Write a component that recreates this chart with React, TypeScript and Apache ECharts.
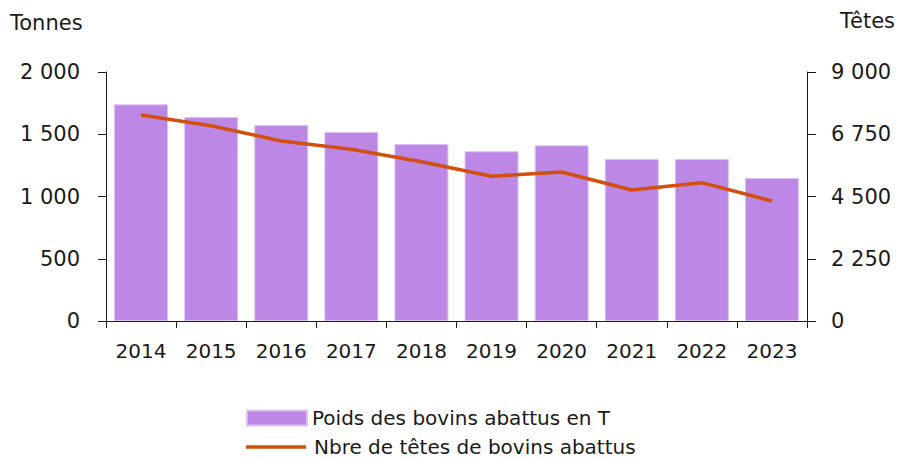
import React, { useEffect, useRef } from "react";
import * as echarts from "echarts";

const years = ["2014", "2015", "2016", "2017", "2018", "2019", "2020", "2021", "2022", "2023"];
const poidsTonnes = [1740, 1638, 1574, 1518, 1422, 1363, 1411, 1301, 1301, 1149];
const nbreTetes = [7446, 7060, 6506, 6205, 5759, 5229, 5386, 4735, 5000, 4337];

const barName = "Poids des bovins abattus en T";
const lineName = "Nbre de têtes de bovins abattus";

const FONT = "DejaVu Sans";
const TXT = "#1a1a1a";
const BAR = "#BC87E5";
const LINE = "#D2500F";

const fmt = (v: number) => {
  const s = String(Math.round(v));
  return s.replace(/\B(?=(\d{3})+(?!\d))/g, " ");
};

export default function App() {
  const ref = useRef<HTMLDivElement>(null);
  useEffect(() => {
    if (!ref.current) return;
    const chart = echarts.init(ref.current, undefined, { renderer: "svg" });
    chart.setOption({
      animation: false,
      backgroundColor: "#ffffff",
      textStyle: { fontFamily: FONT, color: TXT },
      grid: { left: 106, right: 94, top: 72, bottom: 138 },
      legend: [
        {
          left: 246,
          top: 408,
          padding: 0,
          itemWidth: 60,
          itemHeight: 15,
          textStyle: { fontFamily: FONT, fontSize: 20, lineHeight: 20, color: TXT },
          data: [{ name: barName, icon: "rect" }],
        },
        {
          left: 246,
          top: 437,
          padding: 0,
          itemWidth: 60,
          itemHeight: 3.5,
          textStyle: { fontFamily: FONT, fontSize: 20, lineHeight: 20, color: TXT, padding: [0, 0, 0, 3] },
          data: [{ name: lineName, icon: "rect", itemStyle: { color: LINE } }],
        },
      ],
      graphic: [
        {
          type: "text",
          left: 10,
          top: 12,
          style: { text: "Tonnes", font: `21px "${FONT}"`, fill: TXT },
        },
        {
          type: "text",
          right: 6,
          top: 10,
          style: { text: "Têtes", font: `21px "${FONT}"`, fill: TXT },
        },
      ],
      xAxis: {
        type: "category",
        data: years,
        boundaryGap: true,
        axisLine: { show: true, lineStyle: { color: TXT, width: 1 } },
        axisTick: { show: true, length: 7, lineStyle: { color: TXT } },
        axisLabel: { fontFamily: FONT, fontSize: 20, color: TXT, margin: 20 },
      },
      yAxis: [
        {
          type: "value",
          min: 0,
          max: 2000,
          interval: 500,
          position: "left",
          splitLine: { show: false },
          axisLine: { show: true, lineStyle: { color: TXT, width: 1 } },
          axisTick: { show: true, length: 8, lineStyle: { color: TXT } },
          axisLabel: { fontFamily: FONT, fontSize: 21, color: TXT, margin: 26, formatter: fmt },
        },
        {
          type: "value",
          min: 0,
          max: 9000,
          interval: 2250,
          position: "right",
          splitLine: { show: false },
          axisLine: { show: true, lineStyle: { color: TXT, width: 1 } },
          axisTick: { show: true, length: 9, lineStyle: { color: TXT } },
          axisLabel: { fontFamily: FONT, fontSize: 21, color: TXT, margin: 24, formatter: fmt },
        },
      ],
      series: [
        {
          name: barName,
          type: "bar",
          data: poidsTonnes,
          yAxisIndex: 0,
          barCategoryGap: "23%",
          itemStyle: { color: BAR, borderColor: "#DCC2F2", borderWidth: 1 },
        },
        {
          name: lineName,
          type: "line",
          data: nbreTetes,
          yAxisIndex: 1,
          symbol: "none",
          showSymbol: false,
          lineStyle: { color: LINE, width: 3.5 },
          itemStyle: { color: LINE },
        },
      ],
    });
    return () => chart.dispose();
  }, []);
  return (
    <div
      ref={ref}
      style={{ position: "absolute", left: 0, top: 0, width: 901, height: 459 }}
    />
  );
}
